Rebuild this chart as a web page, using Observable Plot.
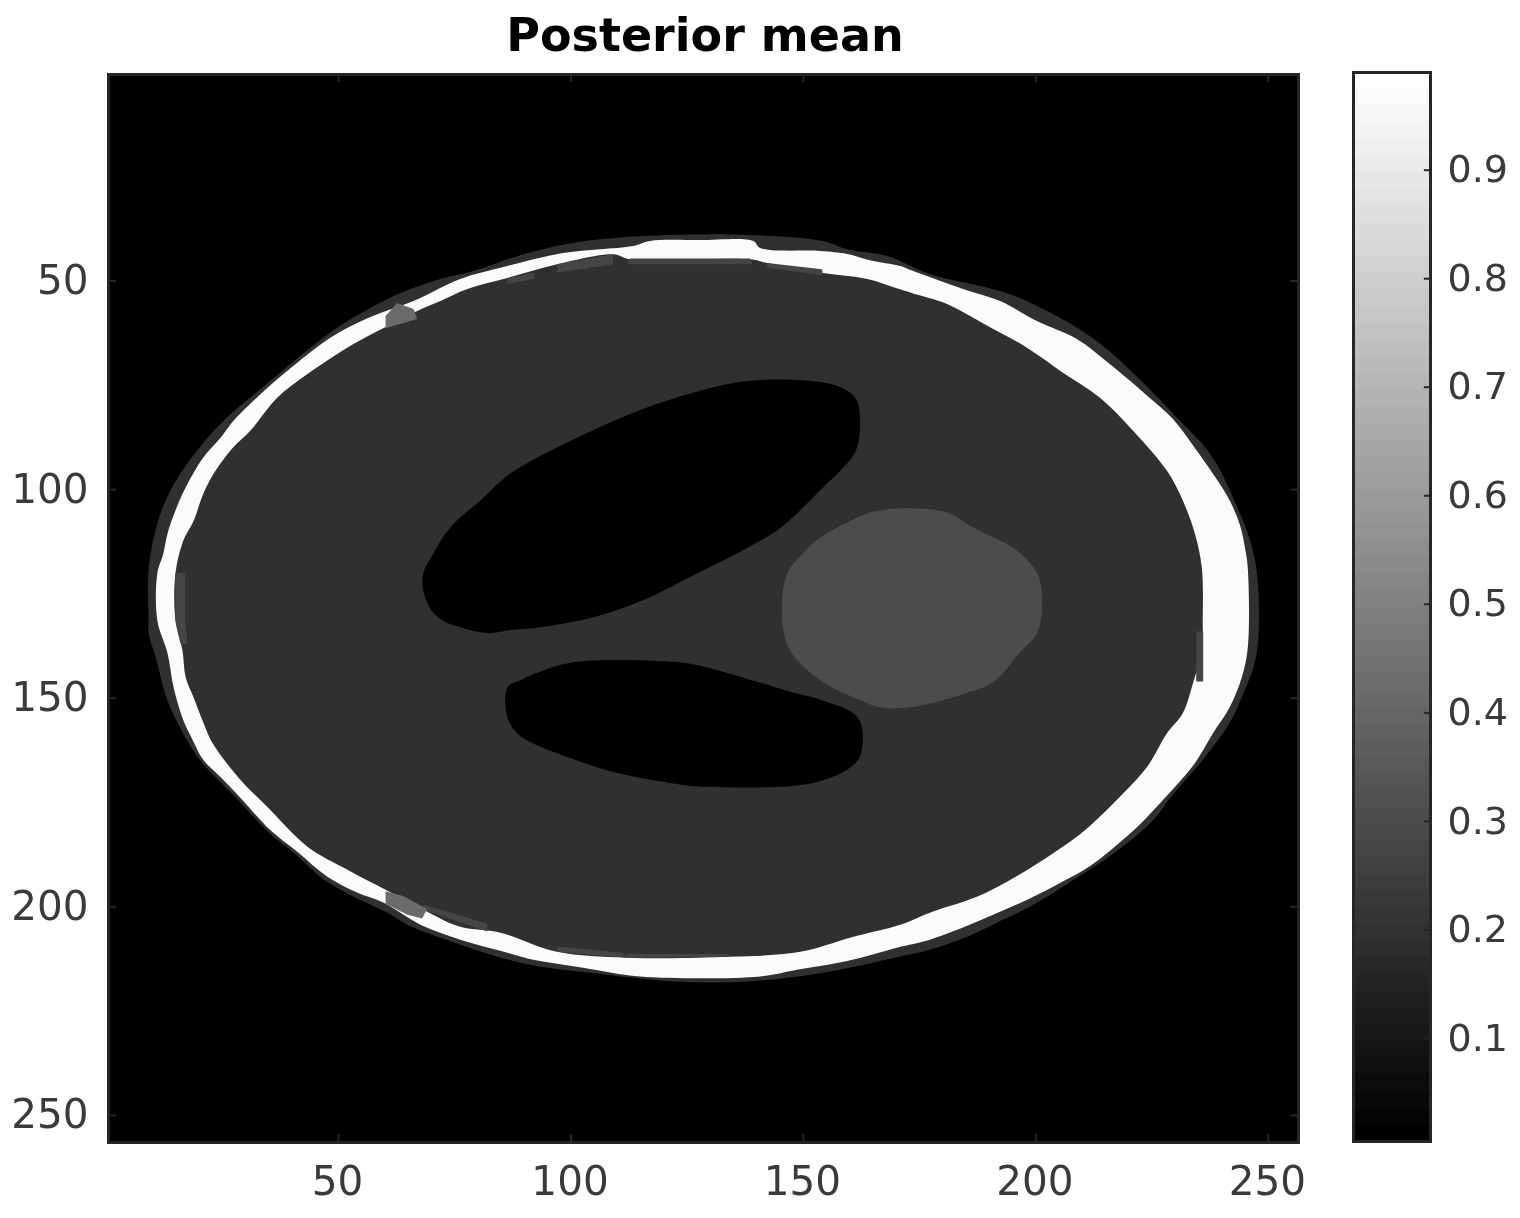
<!DOCTYPE html>
<html>
<head>
<meta charset="utf-8">
<script src="https://cdn.jsdelivr.net/npm/d3@7"></script>
<script src="https://cdn.jsdelivr.net/npm/@observablehq/plot@0.6"></script>
<style>
html,body{margin:0;padding:0;background:#fff;width:1520px;height:1218px;overflow:hidden}
#wrap{position:relative;width:1520px;height:1218px}
#wrap svg{position:absolute;left:0;top:0;background:transparent;filter:blur(0.6px)}
#title{position:absolute;left:0;width:1410px;top:8px;text-align:center;font:bold 46px "DejaVu Sans";color:#000;filter:blur(0.5px)}
</style>
</head>
<body>
<div id="wrap"><div id="title">Posterior mean</div></div>
<script>
const titleText = "Posterior mean";
const xTicks = [50,100,150,200,250];
const yTicks = [50,100,150,200,250];
const barTicks = [0.1,0.2,0.3,0.4,0.5,0.6,0.7,0.8,0.9];
const imageExtent = [0.5,256.5];
const colorDomain = [0.005,0.99];
const levelCount = 64;

// Outlines, in pixel-index coordinates [column,row]
const halo = [[9.1,131.3],[9.1,119.4],[10.6,109.8],[12.8,102.6],[17.1,94.3],[24.6,84.2],[34.2,75],[48,62.5],[56.2,56.9],[63.9,52.6],[71.9,49.5],[79,47.6],[89.1,43.8],[102,40.6],[120.7,39],[139.2,39],[154.2,40.4],[159.4,42.4],[168,44],[177.2,48.3],[192.3,52.4],[199.4,55.5],[213.1,64.4],[231,83.5],[238.1,92.4],[243.9,105.7],[245.6,110.5],[247.5,119.4],[247.5,139.2],[244.3,149.8],[241.7,155.9],[235.9,164.8],[229.9,172.5],[225,179.5],[217,187],[211,191.5],[198.7,200],[191.6,203.8],[185.2,207.2],[177.2,210.3],[170.8,211.9],[154.2,215.8],[137.9,217.9],[122.8,217.9],[104.1,215.8],[89.1,213.4],[71.9,207.4],[64.8,204.3],[60.5,201.4],[54,198],[47,193.6],[40.6,187.3],[34.8,182],[28.4,174.4],[24,169.5],[20.3,165],[16.6,158.5],[13,150],[11,141.6],[9.1,134]];
const whiteOuter = [[11,131.3],[11,120.1],[12.3,115.3],[13.2,110.5],[14.9,105],[17.1,99.5],[20.7,92.6],[24.6,87.6],[27.4,83.5],[34.7,75.6],[39,71.5],[48.2,63.6],[56.2,58.9],[66.1,54.8],[76.2,49.5],[86.3,46.4],[98.3,43.3],[106.3,42.4],[113.4,41.6],[117,40.4],[127.8,40.2],[139.2,40.4],[140.7,42.1],[153.6,42.8],[159.4,43.5],[164.3,45],[170.8,46.4],[173.6,47.6],[184.3,51.9],[192.3,54.8],[200.2,59.6],[208.8,63.9],[215.9,69.9],[225.2,78.7],[229.5,83.1],[234.2,90],[238.1,96.2],[241.7,102.6],[243.9,108.5],[245,114],[245.6,119],[245.6,137.8],[244.3,145],[241.7,152.2],[238.1,158.4],[234.2,165.6],[229.9,171.3],[225.6,176.5],[221.7,181],[215.9,186.6],[211,190.7],[205.2,194.3],[198.7,198],[192.9,200.9],[187.3,203.6],[177.2,207.9],[170.1,209.8],[159.4,213],[148.6,215.1],[140.7,216.7],[114.9,216.7],[102.6,214.6],[91.9,212.7],[86.3,211],[76.2,207.9],[67.6,204.3],[59.6,199],[54,196.6],[47.6,192.8],[41.1,186.8],[35.3,181.6],[28.9,173.9],[24.6,168.9],[20.9,164.8],[18.6,160],[16.6,155.3],[14.5,147.4],[13.2,139.2]];
const interior = [[14.9,131.3],[14.9,120.1],[16.6,112.2],[18.8,107.5],[20.9,101],[23.1,96.2],[27.2,90],[31,85.9],[36.8,78],[43.3,72.3],[53.2,65.1],[59.6,61.3],[66.9,57.2],[71.9,54.8],[77.7,51.9],[86.3,49.3],[97,46],[109.1,43.6],[112.7,44.8],[138.5,44.8],[142.2,45.7],[154.2,48.1],[163.7,49.5],[170.8,52],[173.6,53],[180.9,55.5],[188.6,60.1],[198.1,66],[205.2,71.5],[213.8,78],[220.9,85.9],[228.2,95.5],[231.6,102.6],[234.2,110.5],[235.7,118.7],[235.9,131.3],[235.7,138.5],[233.8,146.4],[231.6,153.6],[228.2,158.4],[223.9,166.5],[217.4,174.4],[212.3,179.9],[208.8,183.2],[200.5,189.5],[193.8,194],[187.3,197.6],[177.2,201.4],[170.8,204.3],[160,207.4],[149.3,210.8],[134.2,212],[112.1,212.2],[97,210.8],[84.8,206.2],[76.2,204.8],[68.2,200.7],[60.1,195.9],[51.9,191.1],[43.3,185.6],[34.7,176.1],[28.9,169.6],[22.9,160.8],[20.7,155.3],[18.8,149.8],[17.1,145],[16.4,138.5]];
const upperHole = [[68.2,124.2],[68.2,120.1],[70.4,115.3],[74,109.1],[80.5,102.6],[86.9,96.2],[101.3,87.6],[113.4,81.6],[125.2,77.1],[137.5,74],[152.1,74],[158.3,75.6],[161.5,78.7],[161.5,90],[157.9,95.5],[154.2,99.5],[148.6,105.7],[144.3,109.8],[135.7,115.3],[127.1,120.1],[115.3,126.6],[104.8,130.6],[93.4,133],[86.9,133.7],[82,134.4],[76.2,133],[72.3,131.3],[69.7,128.5]];
const lowerHole = [[86.3,147.4],[89.1,145.7],[93,143.8],[100.5,141.4],[123.1,141.4],[129.9,142.8],[137.5,145.2],[147.6,148.6],[154,150.5],[161.8,154.8],[162.4,163.2],[160,166.7],[152.1,170.3],[129.9,171.3],[121.3,170.3],[109.1,167.7],[99.2,164.1],[91.2,160.5],[88.4,158.4],[86.3,154.5]];
const lesion = [[166.5,105],[170.1,104.5],[180.9,105.5],[186.5,109.1],[195.9,114.6],[200.5,120.6],[201.3,128.9],[200.2,134.5],[196.6,139],[191,146],[185,148.8],[172.9,152.2],[166.5,152.2],[162.2,150.5],[153.6,145.7],[147.1,138.5],[145.4,130.6],[146.5,120.1],[149.9,115.3],[153.6,111.5],[163.7,105.7]];
const brightGapUpper = [[60.1,58.4],[62.6,55.3],[66.1,56.7],[66.9,59.1],[60.1,61.3]];
const brightGapLower = [[60.1,196.3],[64,197.5],[69,200.5],[68,202.8],[64.8,201.9],[60.1,199.3]];
const rimA = [[112.7,44.6],[138.5,44.6],[139,46],[112,46]];
const rimB = [[97,46],[109,43.6],[109,46],[97,48]];
const rimC = [[86.3,49.3],[92,48],[92,49.5],[86.3,50.7]];
const rimD = [[14.9,120],[17,120],[17,131.3],[14.9,131.3]];
const rimE = [[14.9,131.3],[17,131.3],[17.5,137],[16,137]];
const rimF = [[97,209.5],[111,211],[112,212.2],[97,210.8]];
const rimG = [[68.2,199.5],[82,204],[82,205.9],[68.2,200.7]];
const rimH = [[112,211.3],[134,211.3],[134,212],[112,212.2]];
const rimI = [[234.5,134],[236,134],[236,146],[234.5,146]];
const rimJ = [[142.2,45.7],[154,47.2],[154.2,48.6],[142.2,46.8]];

// Grey levels of those regions
const levelHalo = 0.19;
const levelBone = 0.975;
const levelTissue = 0.19;
const levelLesion = 0.3;
const levelHole = 0.005;
const levelGap = 0.42;
const levelRim = 0.27;

const shared = {type:"linear", domain:colorDomain, range:["black","white"], interpolate:"rgb"};
const shape = (pts, v, curve="catmull-rom-closed") => Plot.line(pts, {x:d=>d[0], y:d=>d[1], fill:()=>v, stroke:"none", curve});
const ink = "#262626", label = "#3a3a3a";
const font = {fontFamily:"DejaVu Sans", background:"transparent"};

const main = Plot.plot({
  width:1520, height:1218, marginLeft:108, marginRight:222, marginTop:74, marginBottom:76,
  style:font,
  x:{domain:imageExtent}, y:{domain:imageExtent, reverse:true},
  color:shared,
  marks:[
    Plot.frame({fill:"black", stroke:"none"}),
    shape(halo, levelHalo),
    shape(whiteOuter, levelBone),
    shape(interior, levelTissue),
    ...[rimA,rimB,rimC,rimD,rimE,rimF,rimG,rimH,rimI,rimJ].map(r=>shape(r, levelRim, "linear-closed")),
    shape(brightGapUpper, levelGap, "linear-closed"),
    shape(brightGapLower, levelGap, "linear-closed"),
    shape(upperHole, levelHole),
    shape(lowerHole, levelHole),
    shape(lesion, levelLesion),
    Plot.ruleX(xTicks,{x:d=>d,y1:254.6,y2:256.5,stroke:ink,strokeWidth:2}),
    Plot.ruleX(xTicks,{x:d=>d,y1:0.5,y2:2.4,stroke:ink,strokeWidth:2}),
    Plot.ruleY(yTicks,{y:d=>d,x1:0.5,x2:2.2,stroke:ink,strokeWidth:2}),
    Plot.ruleY(yTicks,{y:d=>d,x1:254.8,x2:256.5,stroke:ink,strokeWidth:2}),
    Plot.frame({stroke:ink, strokeWidth:3}),
    Plot.axisX(xTicks,{anchor:"bottom",tickSize:0,tickPadding:24,fontSize:40.5,color:label,label:null,textAnchor:"middle",dx:-1,tickFormat:d=>String(d)}),
    Plot.axisY(yTicks,{anchor:"left",tickSize:0,tickPadding:20,fontSize:40.5,color:label,label:null,tickFormat:d=>String(d)})
  ]
});

const step = (colorDomain[1]-colorDomain[0])/levelCount;
const bands = d3.range(levelCount).map(i=>({lo:colorDomain[0]+i*step, hi:colorDomain[0]+(i+1)*step, c:colorDomain[0]+i/(levelCount-1)*(colorDomain[1]-colorDomain[0])}));
const bar = Plot.plot({
  width:1520, height:1218, marginLeft:1353, marginRight:90, marginTop:72, marginBottom:77,
  style:font,
  x:{domain:[0,1],axis:null}, y:{domain:colorDomain},
  color:shared,
  marks:[
    Plot.rect(bands,{x1:0,x2:1,y1:"lo",y2:"hi",fill:"c",shapeRendering:"crispEdges"}),
    Plot.ruleY(barTicks,{y:d=>d,x1:0.92,x2:1,stroke:ink,strokeWidth:2}),
    Plot.frame({stroke:ink, strokeWidth:3}),
    Plot.axisY(barTicks,{anchor:"right",tickSize:0,tickPadding:17,fontSize:38,color:label,label:null,tickFormat:d=>d.toFixed(1)})
  ]
});
const wrap = document.getElementById("wrap");
wrap.appendChild(main);
wrap.appendChild(bar);
document.getElementById("title").textContent = titleText;
</script>
</body>
</html>
